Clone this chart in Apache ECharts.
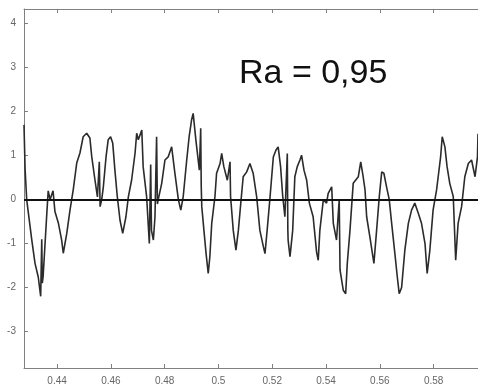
<!DOCTYPE html>
<html>
<head>
<meta charset="utf-8">
<script src="https://cdn.jsdelivr.net/npm/echarts@6/dist/echarts.min.js"></script>
<style>
html,body{margin:0;padding:0;background:#fff;}
#chart{width:478px;height:392px;}
</style>
</head>
<body>
<div id="chart"></div>
<script>
// Profile position (x) and height (y)
var profileX = [
0.4277,0.4281,0.4287,0.4306,0.4318,0.4330,0.4339,0.4343,0.4345,0.4348,
0.4361,0.4367,0.4374,0.4385,0.4392,0.4405,0.4417,0.4423,0.4436,0.4448,
0.4460,0.4473,0.4485,0.4497,0.4510,0.4522,0.4529,0.4541,0.4550,0.4557,
0.4560,0.4566,0.4572,0.4582,0.4590,0.4599,0.4607,0.4615,0.4624,0.4634,
0.4644,0.4656,0.4665,0.4677,0.4690,0.4696,0.4702,0.4715,0.4720,0.4733,
0.4743,0.4748,0.4751,0.4758,0.4764,0.4770,0.4773,0.4776,0.4789,0.4801,
0.4813,0.4826,0.4838,0.4851,0.4860,0.4869,0.4882,0.4891,0.4900,0.4906,
0.4916,0.4929,0.4934,0.4936,0.4938,0.4946,0.4954,0.4962,0.4968,0.4975,
0.4987,0.4993,0.5006,0.5012,0.5020,0.5033,0.5043,0.5045,0.5055,0.5065,
0.5074,0.5083,0.5092,0.5105,0.5117,0.5129,0.5142,0.5154,0.5167,0.5173,
0.5181,0.5191,0.5204,0.5214,0.5222,0.5231,0.5239,0.5247,0.5256,0.5258,
0.5259,0.5266,0.5276,0.5284,0.5293,0.5303,0.5309,0.5318,0.5328,0.5338,
0.5352,0.5365,0.5371,0.5377,0.5390,0.5402,0.5408,0.5421,0.5427,0.5439,
0.5449,0.5452,0.5464,0.5473,0.5479,0.5489,0.5501,0.5520,0.5529,0.5538,
0.5545,0.5551,0.5563,0.5578,0.5588,0.5598,0.5607,0.5615,0.5625,0.5635,
0.5644,0.5656,0.5665,0.5672,0.5681,0.5693,0.5706,0.5718,0.5730,0.5743,
0.5755,0.5768,0.5776,0.5786,0.5798,0.5811,0.5817,0.5826,0.5832,0.5842,
0.5850,0.5860,0.5873,0.5882,0.5891,0.5904,0.5916,0.5929,0.5941,0.5954,
0.5963,0.5965
];
var profileY = [
1.70,0.70,0.00,-0.92,-1.45,-1.76,-2.20,-0.90,-1.90,-1.76,
-0.40,0.20,0.00,0.20,-0.27,-0.54,-0.92,-1.22,-0.77,-0.24,
0.22,0.83,1.06,1.43,1.51,1.40,0.97,0.44,0.06,0.86,
-0.16,0.00,0.29,0.97,1.36,1.43,1.28,0.67,0.06,-0.47,
-0.77,-0.39,0.06,0.44,1.06,1.51,1.36,1.58,0.75,0.06,
-1.00,0.80,-0.70,-0.92,-0.39,1.43,-0.10,0.00,0.37,0.90,
0.97,1.20,0.60,0.00,-0.24,0.07,0.90,1.43,1.81,1.96,
1.36,0.67,1.62,0.30,-0.16,-0.70,-1.23,-1.68,-1.30,-0.54,
0.07,0.60,0.82,1.05,0.75,0.44,0.86,0.07,-0.70,-1.15,
-0.70,-0.08,0.52,0.63,0.82,0.60,0.07,-0.70,-1.07,-1.23,
-0.70,0.00,0.97,1.13,1.20,0.75,0.07,-0.39,1.05,-0.70,
-0.92,-1.30,-0.70,0.52,0.75,0.90,1.01,0.67,0.44,-0.08,
-0.39,-1.20,-1.38,-0.70,0.00,-0.08,0.14,0.29,-0.54,-0.92,
0.00,-1.60,-2.06,-2.14,-1.45,-0.70,0.37,0.52,0.86,0.52,
0.22,-0.39,-0.85,-1.45,-0.70,0.07,0.63,0.60,0.29,0.00,
-0.54,-1.23,-1.76,-2.14,-2.00,-1.15,-0.54,-0.24,-0.08,-0.31,
-0.54,-1.00,-1.68,-1.15,-0.24,0.22,0.52,0.97,1.43,1.20,
0.75,0.37,0.07,-1.38,-0.54,-0.16,0.52,0.82,0.90,0.52,
0.97,1.50
];
var xTicks = [0.44,0.46,0.48,0.5,0.52,0.54,0.56,0.58];
var xTickLabels = ['0.44','0.46','0.48','0.5','0.52','0.54','0.56','0.58'];
var yTicks = [-3,-2,-1,0,1,2,3,4];
var annotation = 'Ra = 0,95';

var xMin = 0.4277, xMax = 0.5965, yMin = -3.83, yMax = 4.335;

var data = profileX.map(function(x, i){ return [x, profileY[i]]; });

var chart = echarts.init(document.getElementById('chart'), null, {renderer:'canvas'});
var axisGray = '#808080';
var labelFont = {color:'#666', fontSize:10, fontFamily:'Liberation Sans'};
chart.setOption({
  animation:false,
  backgroundColor:'#fff',
  grid:{left:24, right:0, top:9, bottom:24, containLabel:false, outerBoundsMode:'none'},
  xAxis:[{
    type:'value', position:'bottom', min:xMin, max:xMax,
    axisLine:{show:true, onZero:false, lineStyle:{color:axisGray, width:1}},
    axisTick:{show:true, inside:true, length:4, customValues:xTicks, lineStyle:{color:axisGray}},
    axisLabel:Object.assign({show:true, margin:8, customValues:xTicks,
      formatter:function(v){ var i = xTicks.indexOf(v); return i>=0 ? xTickLabels[i] : ''; }}, labelFont),
    splitLine:{show:false}
  },{
    type:'value', position:'top', min:xMin, max:xMax,
    axisLine:{show:true, onZero:false, lineStyle:{color:axisGray, width:1}},
    axisTick:{show:true, inside:true, length:4, customValues:xTicks, lineStyle:{color:axisGray}},
    axisLabel:{show:false},
    splitLine:{show:false}
  }],
  yAxis:{
    type:'value', min:yMin, max:yMax,
    axisLine:{show:true, onZero:false, lineStyle:{color:axisGray, width:1}},
    axisTick:{show:true, inside:true, length:4, customValues:yTicks, lineStyle:{color:axisGray}},
    axisLabel:Object.assign({show:true, margin:8, customValues:yTicks,
      formatter:function(v){ return String(v); }}, labelFont),
    splitLine:{show:false}
  },
  series:[{
    type:'line',
    data:data,
    showSymbol:false,
    symbol:'none',
    lineStyle:{color:'#2b2b2b', width:1.6},
    z:3,
    markLine:{
      silent:true, symbol:['none','none'],
      label:{show:false},
      lineStyle:{color:'#111', width:2, type:'solid'},
      data:[{yAxis:0}],
      z:4
    }
  }],
  graphic:[{
    type:'text', x:239, y:73.5,
    style:{text:annotation, fill:'#111', font:'34px "Liberation Sans"', textVerticalAlign:'middle', verticalAlign:'middle'}
  }]
});
</script>
</body>
</html>
